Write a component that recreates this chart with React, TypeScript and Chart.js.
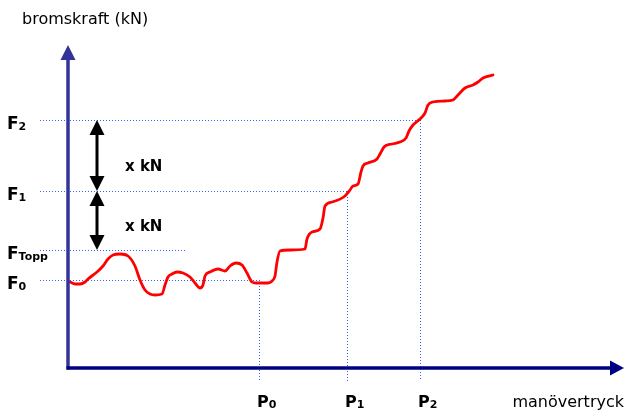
import React, { useEffect, useRef } from "react";
import { Chart, registerables } from "chart.js";

Chart.register(...registerables);

// manövertryck (x) and bromskraft (y), arbitrary units from the axis origin
const pressure = [
  2, 7, 12, 17, 20, 29, 35, 40, 45, 52, 60, 67, 72, 77, 82, 87, 94, 97, 100, 104,
  109, 115, 122, 127, 132, 135, 137, 142, 150, 157, 162, 168, 174, 179, 184, 188,
  200, 204, 207, 209, 212, 222, 237, 239, 244, 252, 255, 257, 264, 277, 282, 285,
  290, 293, 295, 300, 309, 312, 316, 324, 332, 338, 341, 345, 352, 357, 360, 365,
  377, 385, 390, 397, 405, 410, 415, 425,
];
const force = [
  86, 84, 84, 86, 89, 96, 102, 109, 113, 114, 112, 102, 88, 78, 74, 73, 74, 83, 91, 94,
  96, 95, 91, 85, 80, 83, 92, 96, 99, 97, 102, 105, 103, 95, 86, 85,
  85, 87, 92, 106, 117, 118, 119, 129, 136, 139, 150, 162, 166, 172, 178, 182,
  184, 196, 202, 205, 209, 214, 221, 224, 226, 230, 237, 243, 249, 255, 263, 266,
  267, 268, 273, 280, 283, 286, 290, 293,
];

// Force levels (F0, FTopp, F1, F2) and where their guide lines end on the x scale
const forceLevelValues = [88, 118, 177, 248];
const forceLevelSubs = ["0", "Topp", "1", "2"];
const forceGuideEnds = [191, 117, 279, 352];

// Pressure levels (P0, P1, P2)
const pressureLevelValues = [191, 279, 352];
const pressureLevelSubs = ["0", "1", "2"];

// Arrows "x kN": [from, to] in force units
const stepArrows = [
  [248, 177],
  [177, 118],
];
const stepLabel = "x kN";
const arrowPressure = 29;

const yTitle = "bromskraft (kN)";
const xTitle = "manövertryck";

const X_MAX = 556;
const Y_MAX = 323;
const GUIDE_START = -28;

const FONT = '"DejaVu Sans", Verdana, sans-serif';

const diagramPlugin = {
  id: "diagram",
  beforeDatasetsDraw(chart: any) {
    const ctx = chart.ctx;
    const xs = chart.scales.x;
    const ys = chart.scales.y;
    const X = (v: number) => xs.getPixelForValue(v);
    const Y = (v: number) => ys.getPixelForValue(v);
    const y0 = Y(0);
    ctx.save();
    ctx.strokeStyle = "#3060ff";
    ctx.lineWidth = 1;
    ctx.setLineDash([1, 2]);
    forceLevelValues.forEach((v, i) => {
      const py = Math.round(Y(v)) + 0.5;
      ctx.beginPath();
      ctx.moveTo(Math.round(X(GUIDE_START)), py);
      ctx.lineTo(Math.round(X(forceGuideEnds[i])), py);
      ctx.stroke();
    });
    const pLevelsForce = [forceLevelValues[0], forceLevelValues[2], forceLevelValues[3]];
    pressureLevelValues.forEach((v, i) => {
      const px = Math.round(X(v)) + 0.5;
      ctx.beginPath();
      ctx.moveTo(px, Math.round(Y(pLevelsForce[i])));
      ctx.lineTo(px, Math.round(y0 + 13));
      ctx.stroke();
    });
    ctx.restore();
  },
  afterDraw(chart: any) {
    const ctx = chart.ctx;
    const xs = chart.scales.x;
    const ys = chart.scales.y;
    const X = (v: number) => xs.getPixelForValue(v);
    const Y = (v: number) => ys.getPixelForValue(v);
    const x0 = X(0);
    const y0 = Y(0);
    const yTop = Y(Y_MAX);
    const xEnd = X(X_MAX);
    ctx.save();
    ctx.setLineDash([]);

    // y axis
    ctx.strokeStyle = "#333399";
    ctx.fillStyle = "#333399";
    ctx.lineWidth = 3.5;
    ctx.beginPath();
    ctx.moveTo(x0, y0 + 1.5);
    ctx.lineTo(x0, yTop + 14);
    ctx.stroke();
    ctx.beginPath();
    ctx.moveTo(x0, yTop);
    ctx.lineTo(x0 - 7.5, yTop + 15);
    ctx.lineTo(x0 + 7.5, yTop + 15);
    ctx.closePath();
    ctx.fill();

    // x axis
    ctx.strokeStyle = "#000080";
    ctx.fillStyle = "#000080";
    ctx.beginPath();
    ctx.moveTo(x0 - 1.5, y0);
    ctx.lineTo(xEnd - 13, y0);
    ctx.stroke();
    ctx.beginPath();
    ctx.moveTo(xEnd, y0);
    ctx.lineTo(xEnd - 14, y0 - 7.5);
    ctx.lineTo(xEnd - 14, y0 + 7.5);
    ctx.closePath();
    ctx.fill();

    // double arrows
    ctx.strokeStyle = "#000";
    ctx.fillStyle = "#000";
    ctx.lineWidth = 3;
    const ax = X(arrowPressure);
    stepArrows.forEach(([a, b], i) => {
      const t = Y(a);
      const bt = Y(b);
      ctx.beginPath();
      ctx.moveTo(ax, t + 10);
      ctx.lineTo(ax, bt - 10);
      ctx.stroke();
      ctx.beginPath();
      ctx.moveTo(ax, t);
      ctx.lineTo(ax - 7.5, t + 15);
      ctx.lineTo(ax + 7.5, t + 15);
      ctx.closePath();
      ctx.fill();
      ctx.beginPath();
      ctx.moveTo(ax, bt);
      ctx.lineTo(ax - 7.5, bt - 15);
      ctx.lineTo(ax + 7.5, bt - 15);
      ctx.closePath();
      ctx.fill();
      ctx.font = `bold 15px ${FONT}`;
      ctx.textAlign = "left";
      ctx.textBaseline = "alphabetic";
      ctx.fillText(stepLabel, ax + 28, (t + bt) / 2 + (i === 0 ? 15 : 10));
    });

    // axis titles
    ctx.fillStyle = "#000";
    ctx.font = `16px ${FONT}`;
    ctx.textAlign = "left";
    ctx.fillText(yTitle, x0 - 46, yTop - 21);
    ctx.textAlign = "right";
    ctx.fillText(xTitle, xEnd, y0 + 39);

    // F labels
    ctx.textAlign = "left";
    forceLevelValues.forEach((v, i) => {
      const by = Y(v) + 9;
      ctx.font = `bold 17px ${FONT}`;
      ctx.fillText("F", x0 - 61, by);
      const w = ctx.measureText("F").width;
      ctx.font = `bold 11px ${FONT}`;
      ctx.fillText(forceLevelSubs[i], x0 - 61 + w, by + 1);
    });

    // P labels
    pressureLevelValues.forEach((v, i) => {
      const by = y0 + 39;
      const lx = X(v) - 2;
      ctx.font = `bold 16px ${FONT}`;
      ctx.fillText("P", lx, by);
      const w = ctx.measureText("P").width;
      ctx.font = `bold 11px ${FONT}`;
      ctx.fillText(pressureLevelSubs[i], lx + w, by + 1);
    });

    ctx.restore();
  },
};

export default function App() {
  const ref = useRef<HTMLCanvasElement | null>(null);
  useEffect(() => {
    if (!ref.current) return;
    const chart = new Chart(ref.current, {
      type: "line",
      data: {
        datasets: [
          {
            data: pressure.map((p, i) => ({ x: p, y: force[i] })),
            borderColor: "#ff0000",
            borderWidth: 2.8,
            borderJoinStyle: "round",
            borderCapStyle: "round",
            pointRadius: 0,
            fill: false,
            cubicInterpolationMode: "monotone",
          },
        ],
      },
      options: {
        animation: false,
        responsive: false,
        devicePixelRatio: 1,
        layout: { padding: { left: 68, top: 45, right: 1, bottom: 44 } },
        scales: {
          x: { type: "linear", min: 0, max: X_MAX, display: false },
          y: { type: "linear", min: 0, max: Y_MAX, display: false },
        },
        plugins: { legend: { display: false }, tooltip: { enabled: false } },
      },
      plugins: [diagramPlugin],
    } as any);
    return () => chart.destroy();
  }, []);
  return (
    <div style={{ position: "absolute", left: 0, top: 0, width: 625, height: 412, background: "#fff" }}>
      <canvas ref={ref} width={625} height={412} />
    </div>
  );
}
